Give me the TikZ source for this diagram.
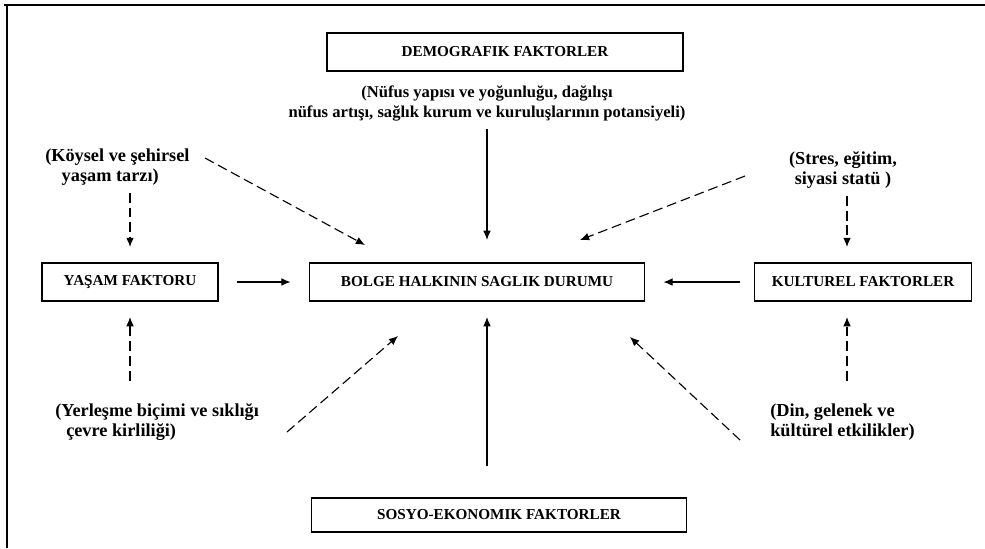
\documentclass[tikz,border=0pt]{standalone}
\usepackage{fontspec}
\setmainfont{Liberation Serif}
\usetikzlibrary{arrows.meta,positioning}

\begin{document}
\begin{tikzpicture}[x=0.025cm,y=-0.025cm, >={Latex[length=6.5pt,width=5.5pt]},
    font=\fontsize{10.8}{14}\selectfont\bfseries,
    box/.style={draw,line width=0.9pt,minimum height=0.95cm,inner sep=2pt},
    bigbox/.style={box,line width=1.3pt},
    txt/.style={inner sep=0pt,font=\fontsize{13}{14.5}\selectfont\bfseries},
    dashedarrow/.style={->,thick,dash pattern=on 7pt off 3.5pt}]
    \useasboundingbox (0,0) rectangle (985,548);
    % frame
    \draw[line width=1.8pt] (4,5) -- (985,5);
    \draw[line width=1.1pt] (7,5) -- (7,548);

    % boxes
    \node[bigbox,minimum width=8.9cm] (dem) at (505,52) {DEMOGRAFIK FAKTORLER};
    \node[box,minimum width=8.375cm] (bolge) at (477,282) {BOLGE HALKININ SAGLIK DURUMU};
    \node[box,minimum width=4.4cm] (yasam) at (130,282) {YAŞAM FAKTORU};
    \node[box,minimum width=5.425cm] (kultur) at (863,282) {KULTUREL FAKTORLER};
    \node[bigbox,minimum width=9.375cm,minimum height=0.85cm] (sosyo) at (499,515) {SOSYO-EKONOMIK FAKTORLER};

    % texts
    \node[txt,align=center,font=\fontsize{11.8}{14.2}\selectfont\bfseries] (demtxt) at (487,103) {(Nüfus yapısı ve yoğunluğu, dağılışı\\nüfus artışı, sağlık kurum ve kuruluşlarının potansiyeli)};
    \node[txt,align=left,anchor=west] (koy) at (45,167) {(Köysel ve şehirsel\\\hspace*{0.9em}yaşam tarzı)};
    \node[txt,align=center] (stres) at (843,170) {(Stres, eğitim,\\siyasi statü )};
    \node[txt,align=left,anchor=west] (yer) at (55,422) {(Yerleşme biçimi ve sıklığı\\\hspace*{0.6em}çevre kirliliği)};
    \node[txt,align=left,anchor=west] (din) at (770,422) {(Din, gelenek ve\\kültürel etkilikler)};

    % diagonal end points
    \coordinate (koyend) at (205,158);
    \coordinate (koytip) at (365,245);
    \coordinate (stresend) at (745,176);
    \coordinate (strestip) at (580,240);
    \coordinate (yerend) at (287,432);
    \coordinate (yertip) at (398,336);
    \coordinate (dinend) at (740,440);
    \coordinate (dintip) at (630,337);

    % solid arrows
    \draw[->,thick,shorten <=6pt,shorten >=16pt] (demtxt.south -| 487,0) -- (bolge.north -| 487,0);
    \draw[->,thick,shorten <=22pt,shorten >=11pt] (sosyo.north -| 487,0) -- (bolge.south -| 487,0);
    \draw[->,thick,shorten <=13pt,shorten >=13pt] (yasam.east) -- (bolge.west);
    \draw[->,thick,shorten <=10pt,shorten >=13pt] (kultur.west) -- (bolge.east);

    % dashed arrows
    \draw[dashedarrow,shorten <=5pt,shorten >=11pt] (koy.south -| yasam.north) -- (yasam.north);
    \draw[dashedarrow,shorten <=5pt,shorten >=11pt] (stres.south -| 847,0) -- (kultur.north -| 847,0);
    \draw[dashedarrow,shorten <=16pt,shorten >=11pt] (yer.north -| yasam.south) -- (yasam.south);
    \draw[dashedarrow,shorten <=16pt,shorten >=11pt] (din.north -| 847,0) -- (kultur.south -| 847,0);
    \draw[dashedarrow] (koyend) -- (koytip);
    \draw[dashedarrow] (stresend) -- (strestip);
    \draw[dashedarrow] (yerend) -- (yertip);
    \draw[dashedarrow] (dinend) -- (dintip);
\end{tikzpicture}
\end{document}
